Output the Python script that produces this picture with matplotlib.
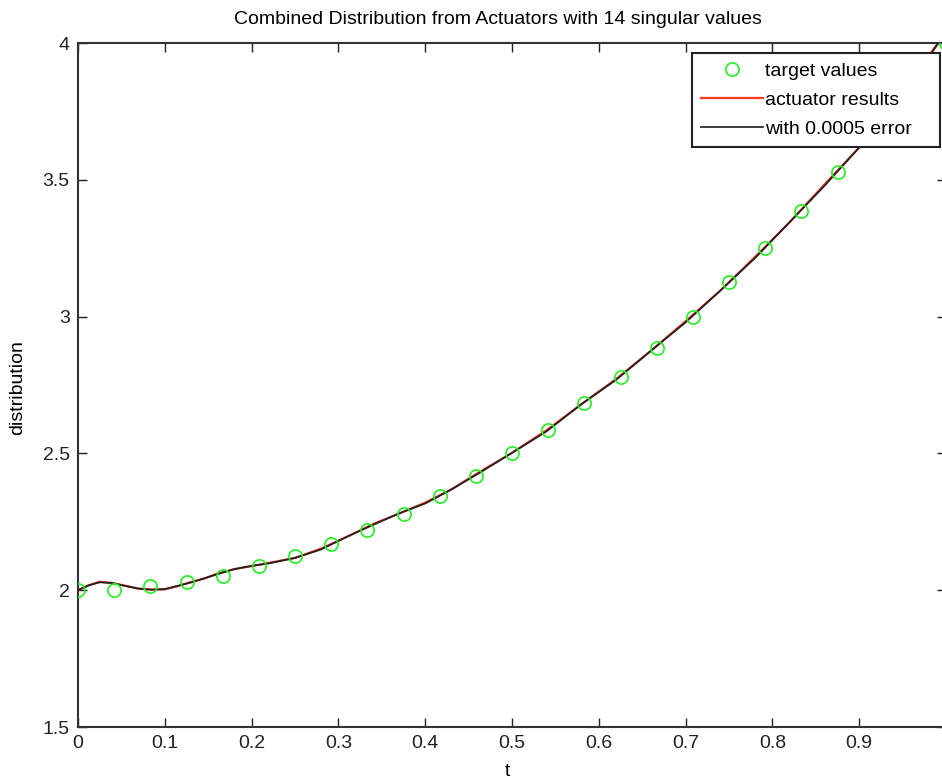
import matplotlib
matplotlib.use("Agg")
import matplotlib.pyplot as plt
from matplotlib.lines import Line2D

plt.rcParams['font.family'] = ['Liberation Sans', 'DejaVu Sans']

# ---- data ----
target_t = [0.0, 0.0417, 0.0833, 0.125, 0.1667, 0.2083, 0.25, 0.2917, 0.3333,
            0.375, 0.4167, 0.4583, 0.5, 0.5417, 0.5833, 0.625, 0.6667, 0.7083,
            0.75, 0.7917, 0.8333, 0.875, 0.9167, 0.9583, 1.0]
target_y = [2.0, 2.0, 2.016, 2.031, 2.053, 2.09, 2.125, 2.17, 2.22, 2.28, 2.345,
            2.418, 2.5, 2.585, 2.683, 2.78, 2.885, 3.0, 3.125, 3.25, 3.385, 3.53,
            3.68, 3.835, 4.0]

curve_t = [0.0, 0.0125, 0.025, 0.04, 0.055, 0.07, 0.085, 0.1, 0.115, 0.13, 0.145,
           0.16, 0.18, 0.2, 0.22, 0.25, 0.28, 0.31, 0.34, 0.37, 0.40, 0.43, 0.46,
           0.50, 0.54, 0.58, 0.62, 0.66, 0.70, 0.74, 0.78, 0.82, 0.86, 0.90, 0.93,
           0.96, 0.98, 1.0]
actuator_y = [2.0, 2.018, 2.031, 2.026, 2.016, 2.005, 2.002, 2.003, 2.015, 2.03,
              2.042, 2.06, 2.077, 2.088, 2.1, 2.118, 2.152, 2.195, 2.242, 2.28,
              2.32, 2.368, 2.427, 2.502, 2.585, 2.68, 2.772, 2.875, 2.983, 3.095,
              3.218, 3.345, 3.483, 3.618, 3.733, 3.86, 3.953, 4.04]
error_y = [2.0, 2.018, 2.029, 2.026, 2.015, 2.006, 2.002, 2.004, 2.016, 2.028,
           2.043, 2.058, 2.077, 2.089, 2.098, 2.118, 2.149, 2.196, 2.239, 2.281,
           2.317, 2.368, 2.424, 2.502, 2.581, 2.68, 2.769, 2.875, 2.979, 3.095,
           3.214, 3.346, 3.478, 3.618, 3.728, 3.86, 3.948, 4.04]

x_ticks = [0, 0.1, 0.2, 0.3, 0.4, 0.5, 0.6, 0.7, 0.8, 0.9]
x_ticklabels = ['0', '0.1', '0.2', '0.3', '0.4', '0.5', '0.6', '0.7', '0.8', '0.9']
y_ticks = [1.5, 2, 2.5, 3, 3.5, 4]
y_ticklabels = ['1.5', '2', '2.5', '3', '3.5', '4']

title = 'Combined Distribution from Actuators with 14 singular values'
labels = ['target values', 'actuator results', 'with 0.0005 error']

# ---- figure ----
W, H = 942, 781
fig = plt.figure(figsize=(W / 100, H / 100), dpi=100)
L, R, T, B = 78, 946, 43, 727
ax = fig.add_axes([L / W, 1 - B / H, (R - L) / W, (B - T) / H])

fs = 14
ax.plot(curve_t, actuator_y, color='#ff2a10', lw=1.5, zorder=2)
ax.plot(curve_t, error_y, color='#222222', lw=1.3, zorder=3)
ax.plot(target_t, target_y, ls='none', marker='o', ms=9.5, mfc='none',
        mec='#22ee22', mew=1.2, zorder=4)

ax.set_xlim(0, 1)
ax.set_ylim(1.5, 4)
ax.set_xticks(x_ticks)
ax.set_xticklabels(x_ticklabels)
ax.set_yticks(y_ticks)
ax.set_yticklabels(y_ticklabels)
ax.tick_params(direction='in', length=6.5, width=1.0, top=True, right=True,
               labelsize=fs, colors='#222222')
ax.tick_params(axis='y', pad=6)
ax.tick_params(axis='x', pad=6)
for s in ax.spines.values():
    s.set_linewidth(1.5)
    s.set_color('#333333')

fig.text(498 / W, 1 - 20 / H, title, ha='center', va='center', fontsize=fs)
fig.text(18 / W, 1 - 388 / H, 'distribution', rotation=90, ha='center',
         va='center', fontsize=fs)
fig.text(507 / W, 1 - 772 / H, 't', ha='center', va='center', fontsize=fs)

handles = [
    Line2D([], [], ls='none', marker='o', ms=9.5, mfc='none', mec='#22ee22', mew=1.2),
    Line2D([], [], color='#ff3a20', lw=1.6),
    Line2D([], [], color='#1a1a1a', lw=1.2),
]
leg = ax.legend(handles, labels, loc='upper left',
                bbox_to_anchor=(692 / W, 1 - 148 / H, 248 / W, 95 / H),
                bbox_transform=fig.transFigure, mode='expand',
                fontsize=fs, frameon=True, fancybox=False, borderaxespad=0,
                handlelength=3.2, handletextpad=0.1, labelspacing=0.6,
                borderpad=0.47, framealpha=1)
leg.get_frame().set_edgecolor('#222222')
leg.get_frame().set_linewidth(1.5)

fig.savefig('out.png', dpi=100)
